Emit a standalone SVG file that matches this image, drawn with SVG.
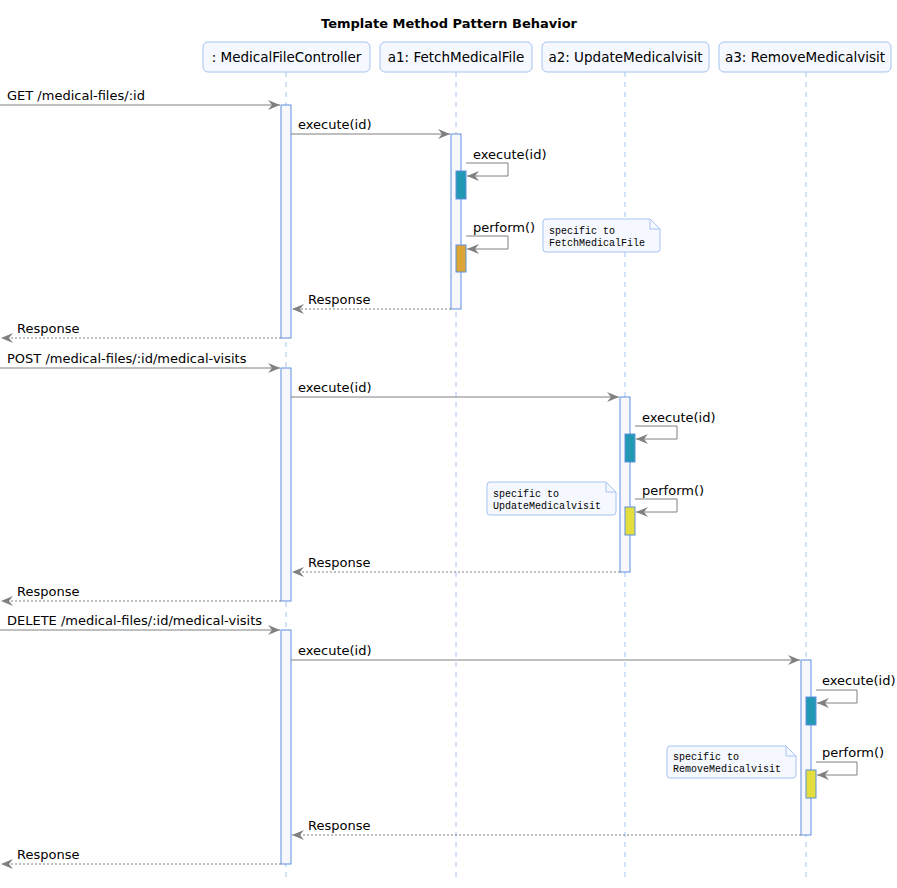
<svg xmlns="http://www.w3.org/2000/svg" width="897" height="888" viewBox="0 0 897 888">
<style>
.t{font-family:"DejaVu Sans","Liberation Sans",Arial,sans-serif;fill:#000}
.title{font-size:13px;font-weight:bold}
.pl{font-size:13.5px}
.ml{font-size:13px}
.nt{font-family:"Liberation Mono","Courier New",monospace;font-size:10px;fill:#000}
.pbox{fill:#f5f8fe;stroke:#a6c3f2;stroke-width:1}
.life{stroke:#a6c3f2;stroke-width:1;stroke-dasharray:5,5}
.act{fill:#f8f8fc;stroke:#5f8fe0;stroke-width:1}
.msg{stroke:#808080;stroke-width:1;fill:none;marker-end:url(#ah)}
.ret{stroke:#808080;stroke-width:1;fill:none;stroke-dasharray:2,2;marker-end:url(#ah)}
.note{fill:#f5f8fe;stroke:#a6c3f2;stroke-width:1}
</style>
<defs>
<marker id="ah" viewBox="0 0 12 10" refX="12" refY="5" markerWidth="12" markerHeight="10" markerUnits="userSpaceOnUse" orient="auto">
<path d="M0,0 L12,5 L0,10 L4,5 Z" fill="#808080"/>
</marker>
</defs>
<rect width="897" height="888" fill="#fff"/>
<text class="t title" x="449" y="28" text-anchor="middle">Template Method Pattern Behavior</text>

<g id="lifelines">
<line class="life" x1="286" y1="72" x2="286" y2="878"/>
<line class="life" x1="456" y1="72" x2="456" y2="878"/>
<line class="life" x1="625" y1="72" x2="625" y2="878"/>
<line class="life" x1="806" y1="72" x2="806" y2="878"/>
</g>

<g id="p-controller">
<rect class="pbox" x="203" y="42" width="167" height="30" rx="5"/>
<text class="t pl" x="286.5" y="62" text-anchor="middle">: MedicalFileController</text>
</g>
<g id="p-a1">
<rect class="pbox" x="380" y="42" width="152" height="30" rx="5"/>
<text class="t pl" x="456" y="62" text-anchor="middle">a1: FetchMedicalFile</text>
</g>
<g id="p-a2">
<rect class="pbox" x="542" y="42" width="167" height="30" rx="5"/>
<text class="t pl" x="625.5" y="62" text-anchor="middle">a2: UpdateMedicalvisit</text>
</g>
<g id="p-a3">
<rect class="pbox" x="719" y="42" width="172" height="30" rx="5"/>
<text class="t pl" x="805" y="62" text-anchor="middle">a3: RemoveMedicalvisit</text>
</g>

<g id="activations">
<rect class="act" x="281" y="105" width="10" height="233"/>
<rect class="act" x="281" y="368" width="10" height="233"/>
<rect class="act" x="281" y="630" width="10" height="234"/>
<rect class="act" x="451" y="134" width="10" height="175"/>
<rect x="456" y="171" width="10" height="28" fill="#2299b4" stroke="#5f8fe0"/>
<rect x="456" y="245" width="10" height="27" fill="#dba635" stroke="#5f8fe0"/>
<rect class="act" x="620" y="397" width="10" height="175"/>
<rect x="625" y="434" width="10" height="28" fill="#2299b4" stroke="#5f8fe0"/>
<rect x="625" y="507" width="10" height="28" fill="#e3de3d" stroke="#5f8fe0"/>
<rect class="act" x="801" y="660" width="10" height="175"/>
<rect x="806" y="697" width="10" height="28" fill="#2299b4" stroke="#5f8fe0"/>
<rect x="806" y="770" width="10" height="28" fill="#e3de3d" stroke="#5f8fe0"/>
</g>

<g id="notes">
<g id="note1">
<path class="note" d="M543,222 Q543,219 546,219 L650,219 L660,229 L660,249 Q660,252 657,252 L546,252 Q543,252 543,249 Z"/>
<path d="M650,219 L650,229 L660,229" fill="none" stroke="#a6c3f2"/>
<text class="nt" x="549" y="234">specific to</text>
<text class="nt" x="549" y="246">FetchMedicalFile</text>
</g>
<g id="note2">
<path class="note" d="M487,485 Q487,482 490,482 L606,482 L616,492 L616,512 Q616,515 613,515 L490,515 Q487,515 487,512 Z"/>
<path d="M606,482 L606,492 L616,492" fill="none" stroke="#a6c3f2"/>
<text class="nt" x="493" y="497">specific to</text>
<text class="nt" x="493" y="509">UpdateMedicalvisit</text>
</g>
<g id="note3">
<path class="note" d="M667,749 Q667,746 670,746 L786,746 L796,756 L796,775 Q796,778 793,778 L670,778 Q667,778 667,775 Z"/>
<path d="M786,746 L786,756 L796,756" fill="none" stroke="#a6c3f2"/>
<text class="nt" x="673" y="760">specific to</text>
<text class="nt" x="673" y="772">RemoveMedicalvisit</text>
</g>
</g>

<g id="connectors">
<line class="msg" x1="0" y1="105" x2="280" y2="105"/>
<line class="msg" x1="291" y1="134" x2="450" y2="134"/>
<polyline class="msg" points="466,163 508,163 508,176 467,176"/>
<polyline class="msg" points="466,236 508,236 508,249 467,249"/>
<line class="ret" x1="451" y1="309" x2="292" y2="309"/>
<line class="ret" x1="281" y1="338" x2="1" y2="338"/>
<line class="msg" x1="0" y1="368" x2="280" y2="368"/>
<line class="msg" x1="291" y1="397" x2="619" y2="397"/>
<polyline class="msg" points="635,426 677,426 677,439 636,439"/>
<polyline class="msg" points="635,499 677,499 677,512 636,512"/>
<line class="ret" x1="620" y1="572" x2="292" y2="572"/>
<line class="ret" x1="281" y1="601" x2="1" y2="601"/>
<line class="msg" x1="0" y1="630" x2="280" y2="630"/>
<line class="msg" x1="291" y1="660" x2="800" y2="660"/>
<polyline class="msg" points="816,690 857,690 857,703 817,703"/>
<polyline class="msg" points="816,762 857,762 857,775 817,775"/>
<line class="ret" x1="801" y1="835" x2="292" y2="835"/>
<line class="ret" x1="281" y1="864" x2="1" y2="864"/>
</g>

<g id="labels">
<text class="t ml" x="7" y="100">GET /medical-files/:id</text>
<text class="t ml" x="298" y="129">execute(id)</text>
<text class="t ml" x="473" y="159">execute(id)</text>
<text class="t ml" x="473" y="232">perform()</text>
<text class="t ml" x="308" y="304">Response</text>
<text class="t ml" x="17" y="333">Response</text>
<text class="t ml" x="7" y="363">POST /medical-files/:id/medical-visits</text>
<text class="t ml" x="298" y="392">execute(id)</text>
<text class="t ml" x="642" y="422">execute(id)</text>
<text class="t ml" x="642" y="495">perform()</text>
<text class="t ml" x="308" y="567">Response</text>
<text class="t ml" x="17" y="596">Response</text>
<text class="t ml" x="7" y="625">DELETE /medical-files/:id/medical-visits</text>
<text class="t ml" x="298" y="655">execute(id)</text>
<text class="t ml" x="822" y="685">execute(id)</text>
<text class="t ml" x="822" y="757">perform()</text>
<text class="t ml" x="308" y="830">Response</text>
<text class="t ml" x="17" y="859">Response</text>
</g>
</svg>
